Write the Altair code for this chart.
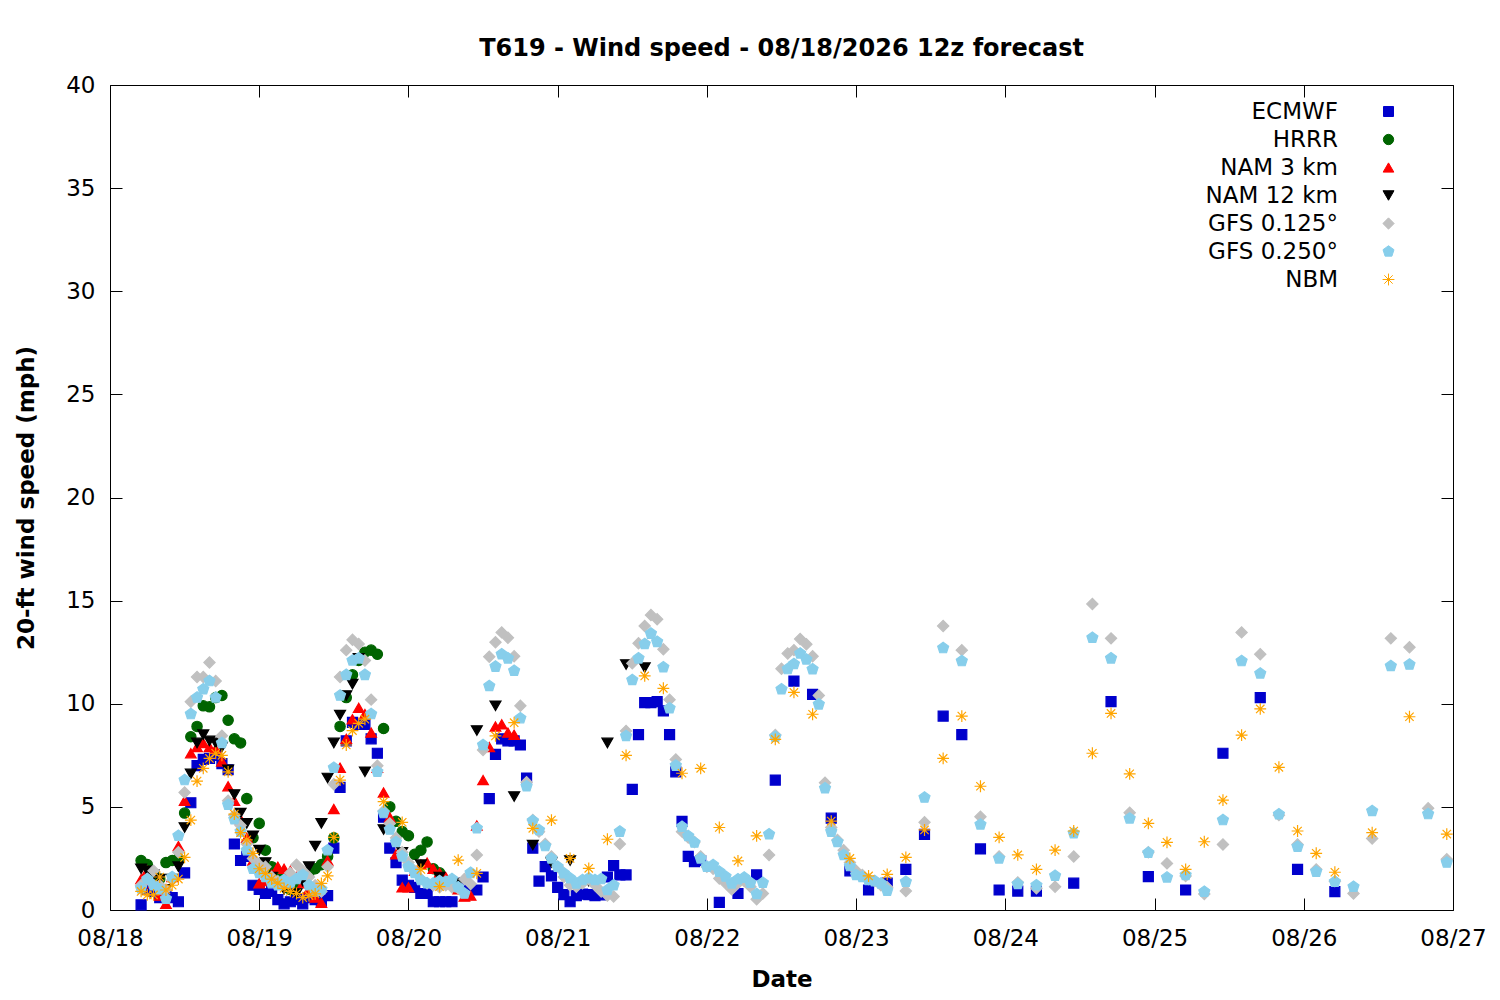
import json
import altair as alt
import pandas as pd

# ---- series definitions -------------------------------------------------
MODELS = ["ECMWF", "HRRR", "NAM 3 km", "NAM 12 km", "GFS 0.125°", "GFS 0.250°", "NBM"]
COLORS = ["#0000CC", "#006400", "#FF0000", "#000000", "#C0C0C0", "#87CEEB", "#FFA500"]
PENTAGON = "M0,-1L0.951,-0.309L0.588,0.809L-0.588,0.809L-0.951,-0.309Z"
ASTERISK = "M0,-1L0,1M-1,0L1,0M-0.707,-0.707L0.707,0.707M-0.707,0.707L0.707,-0.707"
SHAPES = ["square", "circle", "triangle-up", "triangle-down", "diamond", PENTAGON, ASTERISK]
SIZES = [100, 140, 140, 140, 130, 150, 160]

DATE_LABELS = ["08/18", "08/19", "08/20", "08/21", "08/22", "08/23", "08/24", "08/25", "08/26", "08/27"]
TICK_HOURS = [0, 24, 48, 72, 96, 120, 144, 168, 192, 216]
Y_TICKS = [0, 5, 10, 15, 20, 25, 30, 35, 40]

# valid times: hours after 08/18 00 local
ECMWF_HOURS = list(range(5, 96)) + list(range(98, 150, 3)) + list(range(155, 198, 6))
ECMWF_MPH = [
    0.25, 1.0, 0.9, 0.6, 0.7, 0.6, 0.4, 1.8, 5.2, 7.0,
    7.3, 7.35, 7.5, 7.1, 6.8, 3.2, 2.4, 2.6, 1.2, 1.0,
    0.8, 0.9, 0.5, 0.3, 0.4, 0.5, 0.3, 0.6, 0.5, 0.4,
    0.7, 3.0, 5.95, 8.2, 9.1, 9.0, 9.0, 8.3, 7.6, 4.5,
    3.0, 2.3, 1.45, 1.2, 1.1, 0.8, 0.8, 0.4, 0.4, 0.4,
    0.4, 1.2, 1.3, 1.0, 0.97, 1.6, 5.4, 7.55, 8.3, 8.2,
    8.2, 8.0, 6.4, 3.0, 1.4, 2.1, 1.65, 1.1, 0.75, 0.4,
    0.7, 0.77, 0.75, 0.7, 0.73, 1.6, 2.15, 1.7, 1.7, 5.85,
    8.5, 10.05, 10.05, 10.1, 9.65, 8.5, 6.7, 4.3, 2.6, 2.35, 2.4,
    0.37, 0.8, 1.7, 6.3, 11.1, 10.45, 4.45, 1.9, 0.97, 1.3,
    1.97, 3.67, 9.4, 8.5, 2.96, 0.97, 0.92, 0.92,
    1.3, 10.1, 1.62, 0.97, 7.6, 10.3, 1.97, 0.89,
]

HRRR_HOURS = list(range(5, 54))
HRRR_MPH = [
    2.4, 2.2, 1.7, 1.5, 2.3, 2.4, 2.5, 4.7, 8.4, 8.9,
    9.9, 9.85, 10.3, 10.4, 9.2, 8.3, 8.1, 5.4, 3.5, 4.2,
    2.9, 2.1, 1.6, 1.2, 1.0, 1.3, 1.5, 1.8, 2.0, 2.2,
    2.6, 3.5, 8.9, 10.3, 11.4, 12.1, 12.5, 12.6, 12.4, 8.8,
    5.0, 4.3, 3.8, 3.6, 2.7, 2.9, 3.3, 2.0, 1.8,
]

NAM3_HOURS = list(range(5, 66))
NAM3_MPH = [
    1.5, 1.9, 1.3, 0.7, 0.3, 1.6, 3.1, 5.3, 7.6, 7.9,
    8.1, 7.9, 7.8, 7.2, 6.0, 5.3, 4.4, 3.5, 2.4, 1.3,
    1.4, 1.7, 2.1, 2.0, 1.9, 1.6, 1.3, 1.0, 0.6, 0.35,
    2.4, 4.9, 6.9, 8.3, 9.25, 9.8, 9.5, 8.6, 6.9, 5.7,
    4.5, 2.7, 1.1, 1.1, 1.9, 2.2, 2.3, 2.0, 1.8, 1.6,
    1.5, 1.0, 0.65, 0.7, 4.1, 6.3, 7.9, 8.9, 9.0, 8.6, 8.5,
]

NAM12_HOURS = list(range(5, 42)) + list(range(44, 87, 3))
NAM12_MPH = [
    2.0, 1.9, 1.7, 1.5, 1.0, 1.5, 2.1, 4.0, 6.6, 8.1,
    8.5, 8.2, 8.1, 7.9, 6.8, 5.6, 4.7, 4.2, 3.6, 2.9,
    2.3, 1.6, 1.3, 1.0, 1.1, 0.8, 1.4, 2.1, 3.1, 4.2,
    6.4, 8.1, 9.45, 10.4, 10.95, 12.2, 6.7,
    3.9, 2.8, 2.2, 1.6, 1.3, 8.7, 9.9, 5.5, 3.15, 2.3,
    2.4, 1.4, 8.1, 11.9, 11.75,
]

GFS_HOURS = list(range(5, 126)) + list(range(128, 216, 3))
GFS125_MPH = [
    1.2, 1.5, 1.9, 1.2, 1.0, 1.45, 2.8, 5.7, 10.1, 11.3,
    11.3, 12.0, 11.1, 8.45, 5.3, 4.6, 4.1, 3.2, 2.5, 2.2,
    2.1, 1.6, 1.4, 1.3, 1.8, 2.2, 1.9, 1.6, 1.2, 0.9,
    2.1, 6.1, 11.3, 12.6, 13.1, 12.9, 12.1, 10.2, 7.0, 4.8,
    4.2, 3.5, 2.8, 2.3, 1.9, 1.5, 1.3, 1.2, 1.1, 1.2,
    1.1, 1.05, 1.5, 1.26, 2.67, 7.76, 12.28, 12.98, 13.46, 13.2,
    12.3, 9.9, 6.2, 4.36, 3.8, 3.2, 2.6, 2.1, 1.6, 1.2,
    1.13, 1.3, 1.5, 1.2, 0.9, 0.7, 0.65, 3.2, 8.68, 11.96,
    12.93, 13.77, 14.3, 14.1, 12.64, 10.2, 7.3, 3.8, 3.52, 3.3,
    2.6, 2.1, 2.0, 1.53, 1.3, 1.0, 1.3, 1.4, 1.13, 0.52,
    0.8, 2.67, 8.48, 11.7, 12.44, 12.6, 13.14, 12.88, 12.3, 10.4,
    6.17, 4.0, 3.4, 2.9, 2.3, 1.9, 1.7, 1.5, 1.4, 1.2, 1.1,
    0.92, 4.25, 13.77, 12.6, 4.52, 2.6, 1.34, 1.05, 1.13, 2.59,
    14.84, 13.17, 4.72, 2.8, 2.26, 1.65, 0.78, 3.18, 13.46, 12.4,
    4.6, 3.18, 1.97, 1.4, 0.8, 3.47, 13.17, 12.74, 4.93, 2.46,
]
GFS250_MPH = [
    1.05, 1.5, 1.2, 1.0, 0.55, 1.6, 3.6, 6.3, 9.5, 10.3,
    10.7, 11.1, 10.3, 8.1, 5.1, 4.4, 3.8, 2.9, 2.0, 1.8,
    1.6, 1.3, 1.2, 1.45, 1.3, 1.5, 1.7, 1.2, 0.9, 1.0,
    2.9, 6.9, 10.4, 11.4, 12.1, 12.2, 11.4, 9.5, 6.7, 4.7,
    3.9, 3.3, 2.6, 2.1, 1.8, 1.45, 1.3, 1.3, 1.4, 1.37,
    1.5, 1.1, 0.8, 1.8, 3.96, 8.0, 10.86, 11.8, 12.4, 12.2,
    11.6, 9.3, 6.0, 4.33, 3.88, 3.1, 2.5, 2.1, 1.78, 1.54,
    1.29, 1.45, 1.54, 1.45, 1.5, 0.97, 1.2, 3.8, 8.44, 11.15,
    12.2, 12.9, 13.4, 13.0, 11.77, 9.78, 7.0, 4.04, 3.59, 3.27,
    2.5, 2.1, 2.18, 1.86, 1.62, 1.29, 1.49, 1.57, 1.32, 0.78,
    1.32, 3.67, 8.4, 10.7, 11.68, 11.93, 12.44, 12.15, 11.67, 9.97,
    5.9, 3.8, 3.3, 2.67, 2.13, 1.7, 1.6, 1.45, 1.4, 1.29, 0.94,
    1.37, 5.45, 12.7, 12.07, 4.15, 2.5, 1.26, 1.2, 1.66, 3.72,
    13.2, 12.2, 4.44, 2.78, 1.58, 1.7, 0.89, 4.36, 12.07, 11.47,
    4.64, 3.07, 1.86, 1.37, 1.13, 4.8, 11.83, 11.9, 4.65, 2.3,
]

NBM_HOURS = list(range(5, 42)) + list(range(44, 198, 3)) + list(range(203, 216, 6))
NBM_MPH = [
    0.9, 0.73, 0.73, 1.6, 0.97, 1.2, 1.5, 2.55, 4.36, 6.25,
    6.87, 7.35, 7.6, 7.5, 6.7, 4.65, 3.75, 3.4, 2.75, 2.0,
    1.78, 1.5, 1.3, 1.05, 0.9, 0.8, 0.6, 0.7, 0.78, 1.29,
    1.65, 3.52, 6.3, 8.0, 8.7, 9.05, 9.25,
    5.25, 4.25, 1.97, 1.13, 2.42, 1.78, 8.44, 9.08, 3.96, 4.36,
    2.5, 2.02, 3.43, 7.5, 11.35, 10.75, 6.63, 6.87, 4.0, 2.38,
    3.59, 8.27, 10.55, 9.49, 4.31, 2.5, 1.65, 1.73, 2.55, 3.88,
    7.35, 9.4, 6.0, 3.52, 2.67, 1.97, 2.9, 3.83, 7.6, 9.53,
    6.6, 4.2, 3.28, 1.97, 3.31, 5.33, 8.48, 9.75, 6.92, 3.83,
    2.75, 1.83,
    3.75, 9.37, 3.68,
]

SERIES = [
    ("ECMWF", ECMWF_HOURS, ECMWF_MPH),
    ("HRRR", HRRR_HOURS, HRRR_MPH),
    ("NAM 3 km", NAM3_HOURS, NAM3_MPH),
    ("NAM 12 km", NAM12_HOURS, NAM12_MPH),
    ("GFS 0.125°", GFS_HOURS, GFS125_MPH),
    ("GFS 0.250°", GFS_HOURS, GFS250_MPH),
    ("NBM", NBM_HOURS, NBM_MPH),
]

rows = []
seq = 0
for name, hrs, vals in SERIES:
    n = min(len(hrs), len(vals))
    for h, v in zip(hrs[:n], vals[:n]):
        rows.append({"model": name, "hour": h, "mph": v, "seq": seq})
        seq += 1
df = pd.DataFrame(rows)

FONT = "DejaVu Sans"
FS = 23
label_expr = json.dumps(DATE_LABELS) + "[round(datum.value / 24)]"

leg = alt.Legend(
    title=None, orient="none", legendX=1267, legendY=15,
    labelAlign="right", labelOffset={"expr": "-62"}, labelFont=FONT, labelFontSize=FS,
    labelColor="black", symbolSize=80, symbolStrokeWidth=1, rowPadding=4,
    padding=0, labelLimit=400,
)

xscale = alt.Scale(domain=[0, 216], nice=False, zero=False)
yscale = alt.Scale(domain=[0, 40], nice=False)

axis_common = dict(
    labelFont=FONT, titleFont=FONT, labelColor="black", titleColor="black",
    titleFontWeight="bold", tickColor="black", tickWidth=1, domain=False, grid=False,
    offset=-12, tickSize=12, labelFlush=False,
)

points = alt.Chart(df).mark_point(filled=True, strokeWidth=1.2, opacity=1).encode(
    x=alt.X("hour:Q", scale=xscale, axis=alt.Axis(
        orient="bottom", values=TICK_HOURS, labelExpr=label_expr, title="Date",
        labelPadding=17, titlePadding=18, labelFontSize=FS, titleFontSize=FS,
        **axis_common)),
    y=alt.Y("mph:Q", scale=yscale, axis=alt.Axis(
        orient="left", values=Y_TICKS, title="20-ft wind speed (mph)",
        labelPadding=15, titlePadding=27, labelFontSize=FS, titleFontSize=FS,
        **axis_common)),
    color=alt.Color("model:N", scale=alt.Scale(domain=MODELS, range=COLORS), legend=leg),
    stroke=alt.Stroke("model:N", scale=alt.Scale(domain=MODELS, range=COLORS), legend=leg),
    shape=alt.Shape("model:N", scale=alt.Scale(domain=MODELS, range=SHAPES), legend=leg),
    size=alt.Size("model:N", scale=alt.Scale(domain=MODELS, range=SIZES), legend=None),
    order=alt.Order("seq:Q"),
)

mirror = alt.Chart(df).mark_point(opacity=0).encode(
    x=alt.X("hour:Q", axis=alt.Axis(
        orient="top", values=TICK_HOURS, labels=False, title=None, **axis_common)),
    y=alt.Y("mph:Q", axis=alt.Axis(
        orient="right", values=Y_TICKS, labels=False, title=None, **axis_common)),
)

chart = alt.layer(points, mirror).resolve_axis(x="independent", y="independent").properties(
    width=1343, height=825,
    background="white",
    autosize=alt.AutoSizeParams(type="none"),
    padding={"left": 102, "top": 77, "right": 37, "bottom": 92},
    title=alt.TitleParams(
        text="T619 - Wind speed - 08/18/2026 12z forecast", font=FONT, fontSize=24,
        fontWeight="bold", anchor="middle", offset=13, color="black"),
).configure_view(stroke="black", strokeWidth=1)

chart.save("out.html", embed_options={"renderer": "svg", "actions": False})
